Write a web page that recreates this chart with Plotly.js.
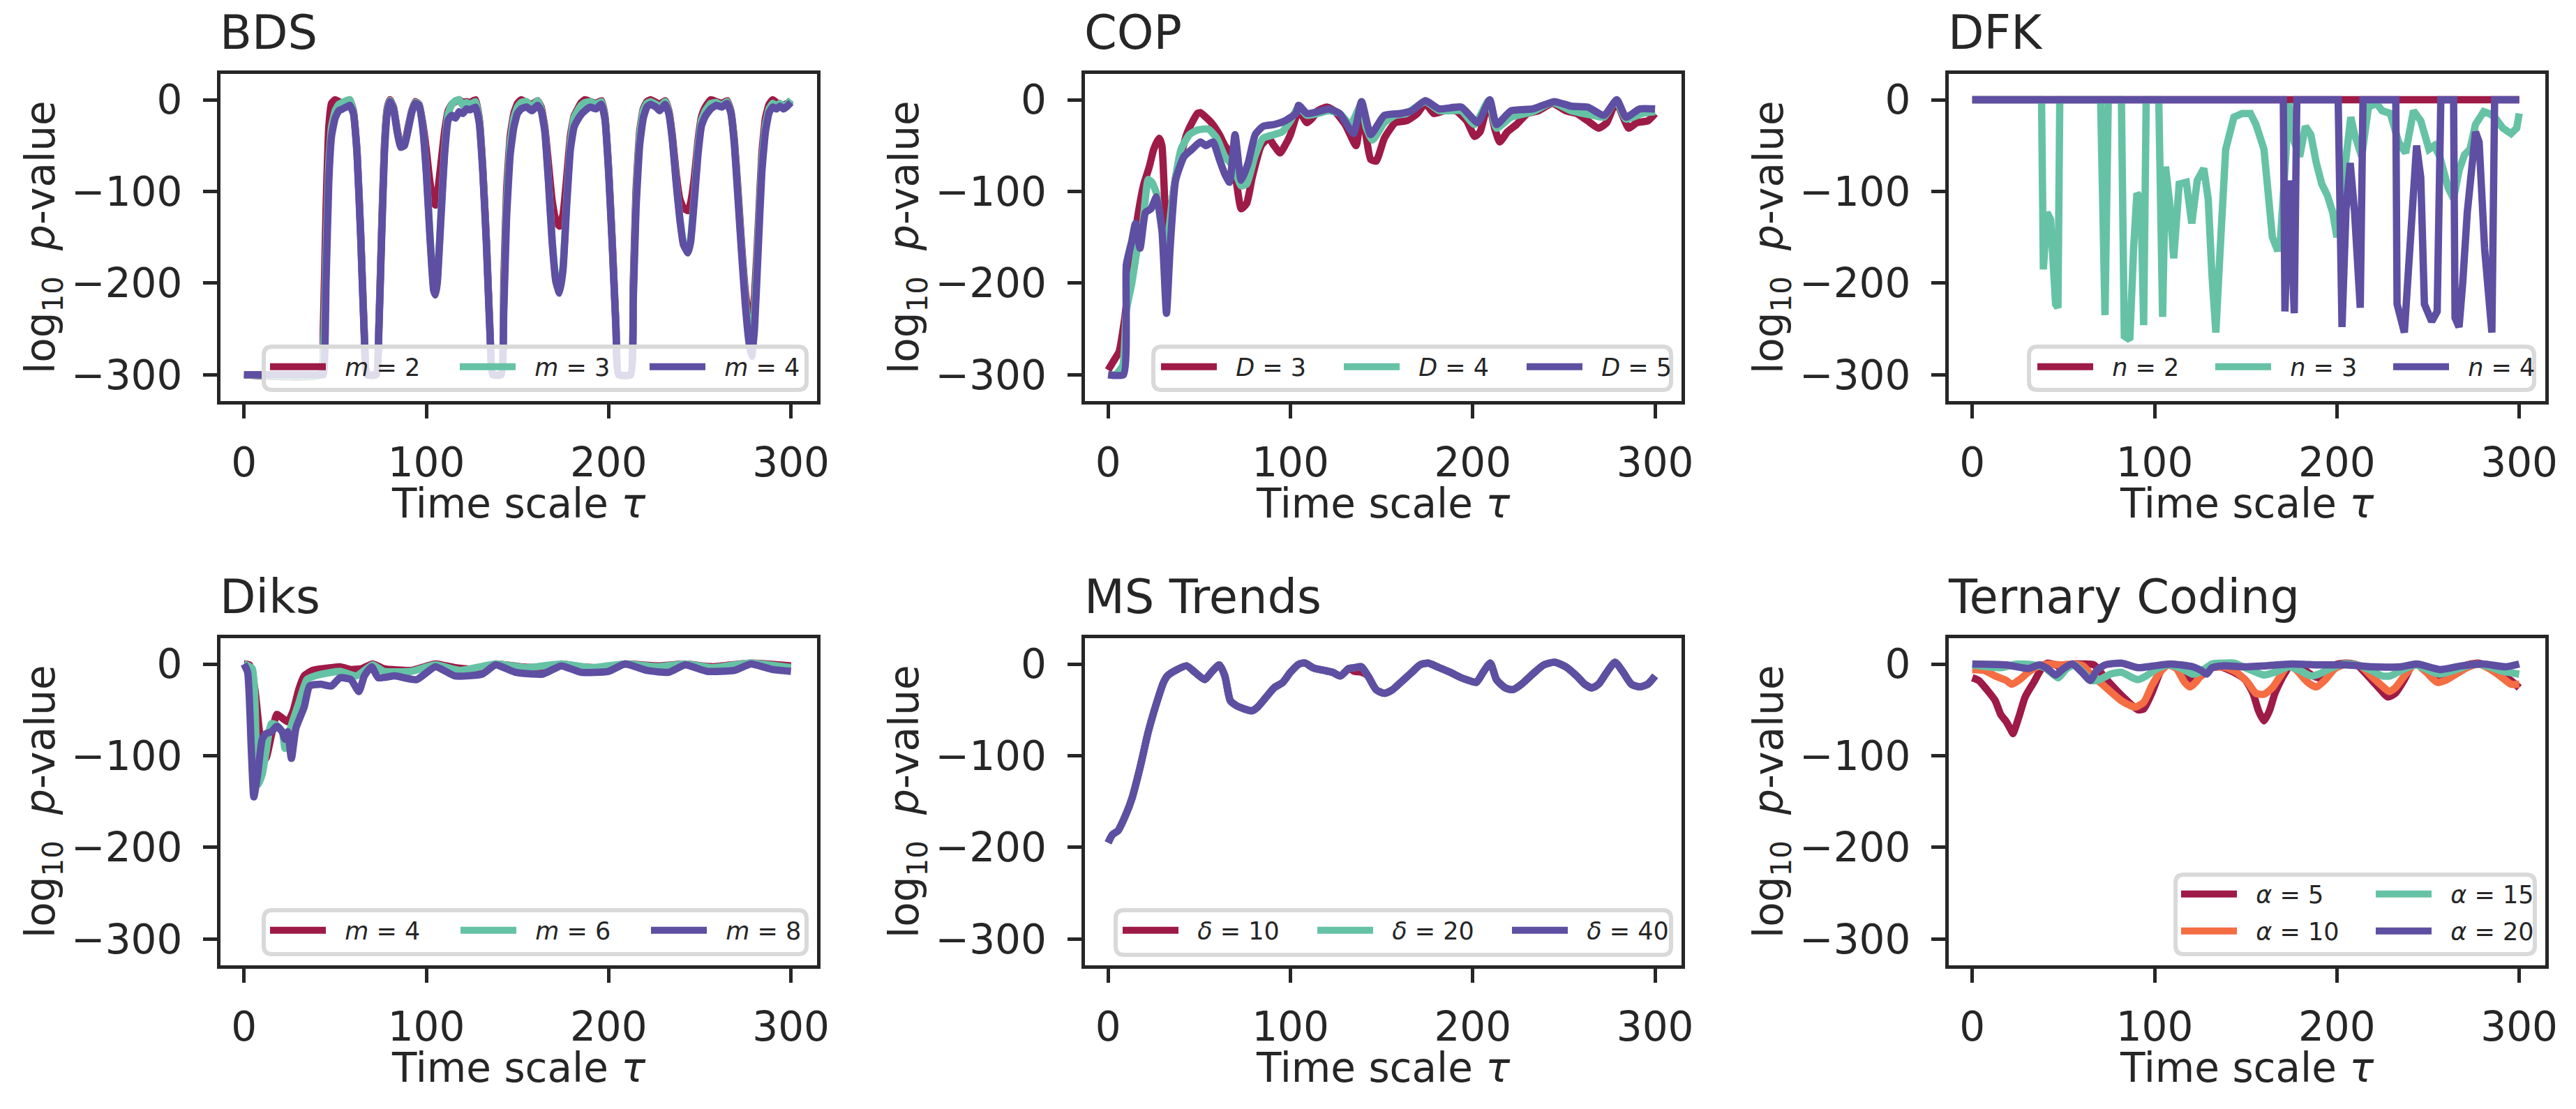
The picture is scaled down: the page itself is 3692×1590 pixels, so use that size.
<!DOCTYPE html>
<html>
<head>
<meta charset="utf-8">
<script src="https://cdn.plot.ly/plotly-3.0.1.min.js"></script>
<style>
  html, body { margin: 0; padding: 0; background: #fff; }
  #chart { width: 3692px; height: 1590px; }
</style>
</head>
<body>
<div id="chart"></div>
<script>
// ---- data: log10 p-value against time scale tau ----
var xTicks = [0, 100, 200, 300];
var yTicks = [-300, -200, -100, 0];

// BDS (one tau grid for all three embedding dimensions)
var bdsTau = [0, 42, 43.5, 45, 46.5, 48, 50, 52, 54, 56, 58, 60, 62, 64, 66, 67.5,
  72.5, 74, 75.5, 77, 78.5, 80, 82, 84, 86, 88, 90, 92, 94, 96,
  98, 100, 102, 104, 105, 106, 108, 110, 112, 114, 116, 118, 120, 122, 124, 127, 129, 131, 133, 135, 136.5,
  141, 142.5, 144, 146, 148, 150, 152, 155, 158, 161, 163, 165, 167, 169, 171, 173, 175, 177, 179, 181, 183, 185, 187, 190, 193, 196, 198, 200, 202, 204, 205.5,
  212, 213.5, 215, 217, 219, 221, 223, 226, 228, 231, 233, 235, 237, 239, 241, 243.5, 245, 247, 249, 251, 253, 256, 259, 262, 265, 267, 269, 271, 273, 275, 277, 278.5, 280, 282, 284, 286, 288, 290, 292, 294, 296, 298, 300];
var bdsM2 = [-300, -300, -250, -120, -30, -4, 0, -2, -4, -2, 0, -12, -55, -145, -255, -300,
  -300, -245, -140, -50, -10, 0, -8, -32, -50, -48, -30, -12, -2, -5,
  -25, -55, -90, -112, -115, -105, -70, -35, -12, -5, -2, 0, -3, -2, -3, 0, -20, -75, -155, -255, -300,
  -300, -200, -100, -40, -15, -4, 0, -3, -5, -1, -8, -30, -70, -110, -132, -138, -125, -85, -40, -18, -10, -3, 0, -2, -4, -1, -18, -75, -155, -245, -300,
  -300, -200, -100, -35, -10, -2, 0, -3, -5, -1, -12, -40, -80, -108, -118, -121, -112, -85, -45, -18, -8, 0, -2, -4, -1, -12, -45, -100, -160, -210, -238, -242, -215, -140, -60, -20, -5, 0, -3, -5, -6, -4, -1];
var bdsM3 = [-300, -300, -280, -170, -70, -30, -12, -5, -3, -1, 0, -13, -58, -148, -258, -300,
  -300, -248, -145, -55, -12, -1, -9, -34, -51, -49, -32, -13, -3, -5,
  -28, -78, -148, -205, -210, -197, -127, -55, -15, -5, -1, 0, -6, -3, -5, -2, -22, -78, -158, -258, -300,
  -300, -215, -115, -48, -20, -8, -3, -2, -8, -1, -10, -33, -88, -152, -195, -208, -182, -110, -48, -20, -12, -6, -3, -2, -5, -2, -20, -78, -158, -248, -300,
  -300, -210, -110, -40, -12, -4, -2, -5, -8, -2, -14, -44, -88, -128, -156, -165, -152, -105, -52, -22, -12, -4, -3, -6, -2, -13, -48, -105, -165, -218, -252, -258, -232, -150, -70, -28, -10, -4, -7, -4, -8, -5, 0];
var bdsM4 = [-300, -300, -300, -200, -90, -40, -20, -12, -10, -8, -6, -15, -60, -150, -260, -300,
  -300, -250, -150, -60, -15, -2, -10, -35, -52, -50, -33, -14, -4, -6,
  -30, -80, -150, -208, -213, -200, -130, -60, -22, -17, -20, -13, -15, -10, -11, -8, -25, -80, -160, -260, -300,
  -300, -230, -130, -60, -30, -15, -10, -8, -12, -6, -12, -35, -90, -155, -198, -211, -185, -115, -55, -30, -22, -16, -12, -8, -10, -5, -22, -80, -160, -250, -300,
  -300, -220, -120, -50, -20, -8, -5, -8, -12, -5, -15, -45, -90, -130, -158, -167, -155, -110, -60, -28, -18, -10, -6, -8, -4, -14, -50, -110, -170, -225, -265, -280, -250, -165, -80, -35, -14, -8, -10, -7, -10, -7, -3];

// COP
var copD3Tau = [0, 3, 6, 9, 12, 16.6, 19.6, 22.6, 25, 28, 29.5, 32, 34, 37, 40, 43, 46, 49, 50.6, 53,
  56.6, 61, 64, 67, 70, 73, 76, 79, 84, 88, 91, 94.3, 97, 100, 104.5, 109, 112, 115, 120, 124,
  130, 136, 139, 141.5, 144, 147, 151.5, 157.5, 163.6, 169.6, 174, 178.6, 184.6, 190.7, 196.7, 201, 204, 208.7, 212, 214.8,
  219, 224, 230, 236, 243.7, 251, 257, 263, 269, 273.5, 278.6, 282.5, 285.5, 290, 296, 300];
var copD3 = [-295, -285, -275, -240, -190, -123, -92, -73, -54, -42, -50, -142, -125, -85, -60, -38, -25, -15, -14, -18,
  -25, -38, -50, -58, -85, -119, -113, -85, -50, -42, -50, -58, -50, -38, -12, -25, -20, -12, -8, -12,
  -27, -50, -8, -40, -65, -67, -42, -25, -23, -15, -4, -15, -12, -12, -23, -40, -35, -2, -31, -46,
  -35, -27, -15, -12, -4, -12, -15, -23, -31, -25, -2, -19, -31, -25, -23, -15];
var copD4Tau = [0, 4, 8, 10, 13, 16, 19, 22, 24, 26.5, 29.5, 32, 35.5, 40, 44.6, 49, 55, 59.6, 64, 68.7,
  73, 76, 80.4, 85, 91, 95.5, 100, 104.5, 109, 115, 121, 127, 133, 139, 141.5, 145, 151.5, 157.5, 163.6, 174,
  181.6, 193.7, 201, 208.7, 213, 221, 233, 243.7, 254, 266, 272, 278.6, 284, 293, 300];
var copD4 = [-300, -300, -290, -230, -200, -162, -135, -87, -90, -102, -142, -160, -104, -54, -38, -33, -32, -42, -62, -73,
  -94, -92, -62, -42, -38, -35, -23, -8, -17, -15, -12, -15, -27, -4, -30, -44, -25, -17, -15, -2,
  -12, -12, -27, -1, -31, -19, -13, -3, -12, -17, -19, -1, -21, -15, -13];
var copD5Tau = [0, 8.4, 10, 13, 15, 17.5, 20.5, 23.5, 26.5, 29.5, 32, 34, 37, 41.6, 46, 50.6, 53.6, 57.5, 61, 64,
  66.6, 69.6, 73, 76.8, 80.7, 85, 91, 97, 103, 104.5, 109, 115, 121, 127, 134.6, 139, 144, 151.5, 160.5, 166.6,
  174, 181.6, 193.7, 202.7, 209.3, 213, 221, 233, 244.6, 254, 263, 272, 279, 284, 291.6, 300];
var copD5 = [-300, -300, -180, -154, -135, -162, -123, -119, -106, -142, -233, -162, -88, -62, -54, -46, -50, -46, -65, -81,
  -90, -38, -88, -69, -38, -29, -27, -23, -15, -6, -15, -13, -10, -15, -37, -2, -38, -17, -15, -12,
  -1, -10, -8, -25, 0, -27, -12, -10, -2, -7, -8, -17, 0, -19, -10, -10];

// DFK
var dfkN2Tau = [0, 300];
var dfkN2 = [0, 0];
var dfkN3Tau = [0, 38, 39, 41, 43, 45.7, 47, 48, 70.4, 71.3, 72.8, 74.6, 81.8, 83.4, 86.4, 88.5, 90.3, 92.5, 94, 95.4,
  102.3, 104.4, 106, 108.4, 110.5, 113.5, 117.4, 120.4, 123.4, 127, 129.4, 131.5, 133.6, 136, 139, 143.5, 148, 152.6, 155.6, 160,
  163, 164.6, 167.6, 169, 172, 173.6, 176.6, 179.6, 182.7, 185.7, 188.7, 191.7, 194.7, 197.7, 200, 203.7, 207.6, 209.7, 213.6, 217.3,
  221.8, 224.8, 229.3, 233.8, 237.7, 242, 246, 250.5, 253.4, 256.4, 261, 264, 267, 270, 273, 276, 280.5, 283.5, 286.5, 291,
  295.5, 298.6, 300];
var dfkN3 = [0, 0, -185, -123, -131, -223, -227, 0, 0, -100, -235, 0, 0, -258, -262, -162, -102, -108, -246, 0,
  0, -237, -73, -115, -173, -92, -90, -135, -88, -75, -108, -192, -254, -162, -54, -19, -15, -15, -27, -54,
  -123, -150, -165, -154, -60, -4, -46, -62, -29, -38, -69, -92, -104, -123, -150, -85, -19, -38, -62, -8,
  -4, -12, -15, -46, -58, -12, -23, -54, -50, -62, -96, -108, -77, -60, -54, -27, -13, -15, -19, -31,
  -37, -31, -15];
var dfkN4Tau = [0, 170.6, 171.5, 173.6, 175, 176.6, 178, 200.7, 202.8, 205, 207.3, 209.7, 212.8, 214.3, 232.3, 233, 237, 240, 243.7, 246,
  248, 252, 255, 257, 264, 264.8, 267, 269, 271.5, 276, 278, 281, 285, 286.5, 300];
var dfkN4 = [0, 0, -231, -88, -150, -233, 0, 0, -248, -120, -69, -123, -227, 0, 0, -223, -254, -162, -50, -85,
  -223, -242, -231, 0, 0, -238, -248, -200, -123, -35, -46, -162, -254, 0, 0];

// Diks
var diksM4Tau = [0, 3, 6, 9, 12, 15, 18, 21, 24, 27, 30, 33, 37.6, 43.6, 52.6, 58.6, 64.6, 70.6, 76.6, 91.7,
  105, 115.7, 130.7, 138, 151.8, 166.8, 174, 184.8, 197, 209, 227, 242, 257, 278, 300];
var diksM4 = [0, -1, -28, -82, -103, -78, -55, -59, -63, -51, -28, -13, -7, -5, -3, -6, -5, 0, -5, -7,
  0, -4, -6, 0, -3, -4, 0, -3, -4, 0, -2, 0, -3, 1, -2];
var diksM6Tau = [0, 4.5, 7.5, 10, 12, 15, 18, 21, 22.5, 25.5, 30, 34.5, 40.6, 52.6, 61.6, 70.6, 76.6, 91.7, 105, 118.7,
  138, 154.8, 174, 190.9, 209, 227, 242, 257, 278, 300];
var diksM6 = [0, -5, -132, -120, -97, -65, -67, -74, -92, -70, -43, -17, -12, -8, -13, -1, -8, -8, -1, -7,
  0, -4, 0, -4, 0, -3, 0, -4, 1, -4];
var diksM8Tau = [0, 2, 4, 5.4, 7.5, 10, 12, 15, 18, 21, 22.5, 24, 26, 28.5, 33, 36, 42, 48, 52.6, 58.6,
  63, 66, 70, 73.6, 82.7, 94.7, 105, 115.7, 130.7, 138, 148.8, 163.8, 174, 184.8, 199.8, 209, 221, 233, 242, 254,
  269, 278, 290, 300];
var diksM8 = [0, -9, -93, -145, -120, -82, -76, -74, -68, -74, -82, -74, -103, -70, -47, -24, -22, -24, -15, -17,
  -30, -13, -3, -15, -13, -17, -3, -13, -11, -1, -9, -11, -2, -9, -8, 0, -7, -9, -1, -8,
  -7, 0, -6, -8];

// MS Trends (the three curves lie on top of each other)
var msTau = [0, 2.4, 5.4, 10, 13, 17.5, 22, 26.5, 30.4, 32.5, 37, 43, 47.6, 53, 56.6, 61, 64, 67, 70, 74.7,
  79, 82, 86.7, 91, 95.8, 100, 104.8, 108, 112.3, 118.4, 123, 127.4, 132, 135, 139, 142.5, 147, 151.5, 156, 160.5,
  166.6, 171, 175.6, 181.6, 187.6, 193.7, 198, 202, 205.7, 209.6, 213, 217.8, 222, 226.8, 232.8, 238.9, 244.9, 251, 257, 261.4,
  265.4, 269, 273.5, 278, 282.5, 287, 291.6, 296, 300];
var msD10 = [-195, -186, -182, -163, -147, -113, -74, -43, -20, -13, -7, -2, -9, -17, -9, -1, -13, -40, -45, -49,
  -51, -47, -36, -26, -20, -9, 0, 1, -4, -7, -9, -13, -5, -8, -9, -13, -28, -32, -28, -20,
  -9, -1, 1, -4, -9, -15, -18, -20, -9, 1, -17, -26, -28, -22, -11, -1, 2, -3, -13, -22,
  -26, -22, -9, 2, -9, -22, -25, -22, -13];
var msD20 = [-195, -186, -182, -163, -147, -113, -74, -43, -20, -13, -7, -2, -9, -17, -9, -1, -13, -40, -45, -49,
  -51, -47, -36, -26, -20, -9, 0, 1, -4, -7, -9, -13, -5, -4, -3, -13, -28, -32, -28, -20,
  -9, -1, 1, -4, -9, -15, -18, -20, -9, 1, -17, -26, -28, -22, -11, -1, 2, -3, -13, -22,
  -26, -22, -9, 2, -9, -22, -25, -22, -13];
var msD40 = [-195, -186, -182, -163, -147, -113, -74, -43, -20, -13, -7, -2, -9, -17, -9, -1, -13, -40, -45, -49,
  -51, -47, -36, -26, -20, -9, 0, 1, -4, -7, -9, -13, -5, -4, -3, -13, -28, -32, -28, -20,
  -9, -1, 1, -4, -9, -15, -18, -20, -9, 1, -17, -26, -28, -22, -11, -1, 2, -3, -13, -22,
  -26, -22, -9, 2, -9, -22, -25, -22, -13];

// Ternary Coding
var terA5Tau = [0, 3.6, 8, 12.6, 15.6, 18.7, 21.7, 22.3, 26, 29, 33.7, 38, 41.2, 45.7, 50, 54.8, 60.8, 66.8, 72.8, 78.8,
  84.9, 90.9, 94, 98.4, 103, 106, 112, 116.5, 121, 125.5, 130, 136, 143.5, 149.6, 154, 157, 160, 163, 166, 170.6,
  175, 181, 187, 190, 194.7, 199, 205, 211, 217, 223, 227.8, 232, 237, 241.6, 247.4, 253, 259.4, 265.4, 271.4, 277.5,
  283.5, 289.5, 295.5, 300];
var terA5 = [-15, -18, -28, -40, -55, -63, -74, -76, -55, -36, -20, -5, 1, -1, -5, 0, 0, -1, -15, -28,
  -40, -50, -49, -32, -9, -1, -1, -13, -17, -13, -5, -3, -9, -17, -32, -51, -62, -51, -32, -13,
  -1, -5, -13, -15, -9, -1, 1, -1, -13, -26, -36, -32, -17, -1, -3, -13, -11, -5, -1, 1,
  -3, -11, -18, -26];
var terA10Tau = [0, 6.6, 12.6, 18.7, 21.7, 26, 30.7, 36.7, 42.7, 48.7, 54.8, 60.8, 66.8, 71.3, 75.8, 81.8, 86.4, 89.4, 94, 98.4,
  103, 107.4, 112, 116.5, 119.5, 122.5, 127, 133, 139, 145, 151, 155.6, 160, 164.6, 169, 173.6, 178, 184, 188.7, 193.2,
  199, 205, 212.8, 218.8, 224.8, 228.7, 232, 237, 243, 249, 255, 259.4, 265.4, 271.4, 277.5, 283.5, 289.5, 295.5, 300];
var terA10 = [-6, -7, -13, -18, -22, -17, -9, -2, 0, -1, 0, -2, -15, -22, -30, -40, -45, -47, -42, -24,
  -9, -1, -5, -20, -25, -20, -9, -3, -4, -9, -20, -32, -33, -26, -13, -1, -7, -20, -25, -18,
  -5, 0, -2, -13, -24, -30, -26, -13, 0, -9, -20, -18, -11, -4, 0, -5, -13, -22, -22];
var terA15Tau = [0, 15.6, 24.7, 33.7, 39.7, 44.2, 47.2, 51.8, 56.3, 60.8, 65.3, 69.8, 75.8, 81.8, 87.9, 90.9, 95.4, 101.4, 107.4, 115,
  121, 125.5, 131.5, 137.5, 143.5, 149.6, 155.6, 160, 166, 173.6, 179.6, 185.7, 190, 196.2, 203.7, 211, 218.8, 224.8, 229.3, 235.3,
  243, 250.5, 256.4, 264, 271.4, 277.5, 283.5, 291, 300];
var terA15 = [-1, -4, 0, -1, -4, -11, -15, -5, -1, -9, -18, -17, -11, -9, -15, -17, -13, -5, -1, -5,
  -11, -8, 0, 1, 1, -4, -9, -12, -9, -3, -7, -13, -11, -5, 0, -1, -7, -13, -13, -7,
  -1, -7, -11, -7, -2, 0, -3, -8, -11];
var terA20Tau = [0, 18.7, 30.7, 36.7, 41.2, 45.7, 50, 54.8, 60.2, 64.7, 68.3, 72.8, 81.8, 90.9, 99.9, 109, 121, 125.5, 128.5, 131.5,
  137.5, 148, 160, 175, 190, 205, 220, 235, 244, 256.4, 268.4, 280.5, 292.6, 300];
var terA20 = [0, -1, -5, -1, -5, -12, -5, 0, -9, -18, -7, -1, 1, -4, -2, 0, -3, -7, -11, -4,
  -2, -3, -2, 0, -1, -1, -3, -3, 0, -6, -2, 0, -3, 0];

// ---- styling / geometry ----
var W = 3692, H = 1590;
var RED = '#9e1a47', ORANGE = '#f46d43', TEAL = '#66c2a5', PURPLE = '#5e4fa2';
var INK = '#262626';
var FONT = 'DejaVu Sans, sans-serif';
var LW = 10.5;

function px(v) { return v / W; }
function py(v) { return 1 - v / H; }

// inner edges of the axes frames, in pixels
var cols = [[316, 1171], [1554.5, 2409.5], [2793, 3648]];
var rows = [[105.7, 574.5], [914.7, 1383.5]];

var panels = [
  {title: 'BDS', row: 0, col: 0, smooth: 0.4, series: [
    {x: bdsTau, y: bdsM2, name: '<i>m</i> = 2', color: RED},
    {x: bdsTau, y: bdsM3, name: '<i>m</i> = 3', color: TEAL},
    {x: bdsTau, y: bdsM4, name: '<i>m</i> = 4', color: PURPLE}],
    box: [378, 497, 1156, 559], legends: [{x: 382, y: 526, w: 177, idx: [0, 1, 2]}]},
  {title: 'COP', row: 0, col: 1, smooth: 0.5, series: [
    {x: copD3Tau, y: copD3, name: '<i>D</i> = 3', color: RED},
    {x: copD4Tau, y: copD4, name: '<i>D</i> = 4', color: TEAL},
    {x: copD5Tau, y: copD5, name: '<i>D</i> = 5', color: PURPLE}],
    box: [1653, 497, 2395, 559], legends: [{x: 1659, y: 526, w: 167, idx: [0, 1, 2]}]},
  {title: 'DFK', row: 0, col: 2, smooth: 0, series: [
    {x: dfkN2Tau, y: dfkN2, name: '<i>n</i> = 2', color: RED},
    {x: dfkN3Tau, y: dfkN3, name: '<i>n</i> = 3', color: TEAL},
    {x: dfkN4Tau, y: dfkN4, name: '<i>n</i> = 4', color: PURPLE}],
    box: [2908, 497, 3632, 559], legends: [{x: 2915, y: 526, w: 160, idx: [0, 1, 2]}]},
  {title: 'Diks', row: 1, col: 0, smooth: 0.5, series: [
    {x: diksM4Tau, y: diksM4, name: '<i>m</i> = 4', color: RED},
    {x: diksM6Tau, y: diksM6, name: '<i>m</i> = 6', color: TEAL},
    {x: diksM8Tau, y: diksM8, name: '<i>m</i> = 8', color: PURPLE}],
    box: [378, 1305, 1156, 1368], legends: [{x: 382, y: 1334, w: 178, idx: [0, 1, 2]}]},
  {title: 'MS Trends', row: 1, col: 1, smooth: 0.6, series: [
    {x: msTau, y: msD10, name: '<i>δ</i> = 10', color: RED},
    {x: msTau, y: msD20, name: '<i>δ</i> = 20', color: TEAL},
    {x: msTau, y: msD40, name: '<i>δ</i> = 40', color: PURPLE}],
    box: [1599, 1305, 2395, 1369], legends: [{x: 1604, y: 1334, w: 184, idx: [0, 1, 2]}]},
  {title: 'Ternary Coding', row: 1, col: 2, smooth: 0.6, series: [
    {x: terA5Tau, y: terA5, name: '<i>α</i> = 5', color: RED},
    {x: terA10Tau, y: terA10, name: '<i>α</i> = 10', color: ORANGE},
    {x: terA15Tau, y: terA15, name: '<i>α</i> = 15', color: TEAL},
    {x: terA20Tau, y: terA20, name: '<i>α</i> = 20', color: PURPLE}],
    box: [3118, 1254, 3633, 1368], legends: [{x: 3121, y: 1282, w: 184, idx: [0, 2]}, {x: 3121, y: 1335, w: 184, idx: [1, 3]}]}
];

function roundBox(b, r) {
  var x0 = b[0], y0 = b[1], x1 = b[2], y1 = b[3];
  function P(x, y) { return px(x).toFixed(6) + ',' + py(y).toFixed(6); }
  return 'M' + P(x0 + r, y0) + ' L' + P(x1 - r, y0) + ' Q' + P(x1, y0) + ' ' + P(x1, y0 + r) +
    ' L' + P(x1, y1 - r) + ' Q' + P(x1, y1) + ' ' + P(x1 - r, y1) +
    ' L' + P(x0 + r, y1) + ' Q' + P(x0, y1) + ' ' + P(x0, y1 - r) +
    ' L' + P(x0, y0 + r) + ' Q' + P(x0, y0) + ' ' + P(x0 + r, y0) + ' Z';
}

var tickFont = {family: FONT, size: 58, color: INK};
var traces = [];
var layout = {
  width: W, height: H,
  margin: {l: 0, r: 0, t: 0, b: 0},
  paper_bgcolor: '#fff', plot_bgcolor: '#fff',
  font: {family: FONT, color: INK},
  showlegend: true,
  annotations: [], shapes: []
};
var legendCount = 0;

panels.forEach(function(p, i) {
  var n = i + 1;
  var xa = 'xaxis' + (n > 1 ? n : ''), ya = 'yaxis' + (n > 1 ? n : '');
  var xid = 'x' + (n > 1 ? n : ''), yid = 'y' + (n > 1 ? n : '');
  var c = cols[p.col], r = rows[p.row];

  layout[xa] = {
    domain: [px(c[0]), px(c[1])], anchor: yid,
    range: [-12.9, 314.3], tickvals: xTicks,
    ticks: 'outside', ticklen: 20, tickwidth: 5, tickcolor: INK,
    showline: true, mirror: true, linewidth: 5, linecolor: INK,
    showgrid: false, zeroline: false, tickfont: tickFont, ticklabelstandoff: 14,
    fixedrange: true
  };
  layout[ya] = {
    domain: [py(r[1]), py(r[0])], anchor: xid,
    range: [-328.4, 28.4], tickvals: yTicks,
    ticks: 'outside', ticklen: 20, tickwidth: 5, tickcolor: INK,
    showline: true, mirror: true, linewidth: 5, linecolor: INK,
    showgrid: false, zeroline: false, tickfont: tickFont, ticklabelstandoff: 18,
    title: {text: 'log<sub>10</sub>\u00a0\u00a0<i>p</i>-value', font: tickFont},
    fixedrange: true
  };

  // panel title, left-aligned on the frame
  layout.annotations.push({
    xref: 'paper', yref: 'paper', x: px(c[0] - 2), y: py(r[0] - 35 + 16),
    xanchor: 'left', yanchor: 'bottom', showarrow: false, borderpad: 0,
    text: p.title, font: {family: FONT, size: 67, color: INK}
  });
  // x-axis label under the tick labels
  layout.annotations.push({
    xref: 'paper', yref: 'paper', x: px((c[0] + c[1]) / 2), y: py(r[1] + 112),
    xanchor: 'center', yanchor: 'top', showarrow: false, borderpad: 0,
    text: 'Time scale <i>τ</i>', font: tickFont
  });

  layout.shapes.push({
    type: 'path', xref: 'paper', yref: 'paper', layer: 'above',
    path: roundBox(p.box, 12),
    fillcolor: 'rgba(255,255,255,0.8)', line: {color: '#d9d9d9', width: 6}
  });

  var legendOf = {};
  p.legends.forEach(function(L) {
    legendCount++;
    var key = 'legend' + (legendCount > 1 ? legendCount : '');
    L.idx.forEach(function(k) { legendOf[k] = key; });
    layout[key] = {
      x: px(L.x), y: py(L.y), xanchor: 'left', yanchor: 'middle',
      orientation: 'h', bgcolor: 'rgba(0,0,0,0)', borderwidth: 0,
      font: {family: FONT, size: 35, color: INK},
      itemwidth: 80, entrywidth: L.w, entrywidthmode: 'pixels',
      traceorder: 'normal', itemclick: false, itemdoubleclick: false
    };
  });

  p.series.forEach(function(s, k) {
    traces.push({
      type: 'scatter', mode: 'lines', x: s.x, y: s.y,
      name: '\u00a0\u00a0' + s.name, xaxis: xid, yaxis: yid,
      legend: legendOf[k],
      line: {color: s.color, width: LW,
        shape: p.smooth > 0 ? 'spline' : 'linear', smoothing: p.smooth > 0 ? p.smooth : 1},
      hoverinfo: 'skip'
    });
  });
});

Plotly.newPlot('chart', traces, layout, {displayModeBar: false, staticPlot: true});
</script>
</body>
</html>
